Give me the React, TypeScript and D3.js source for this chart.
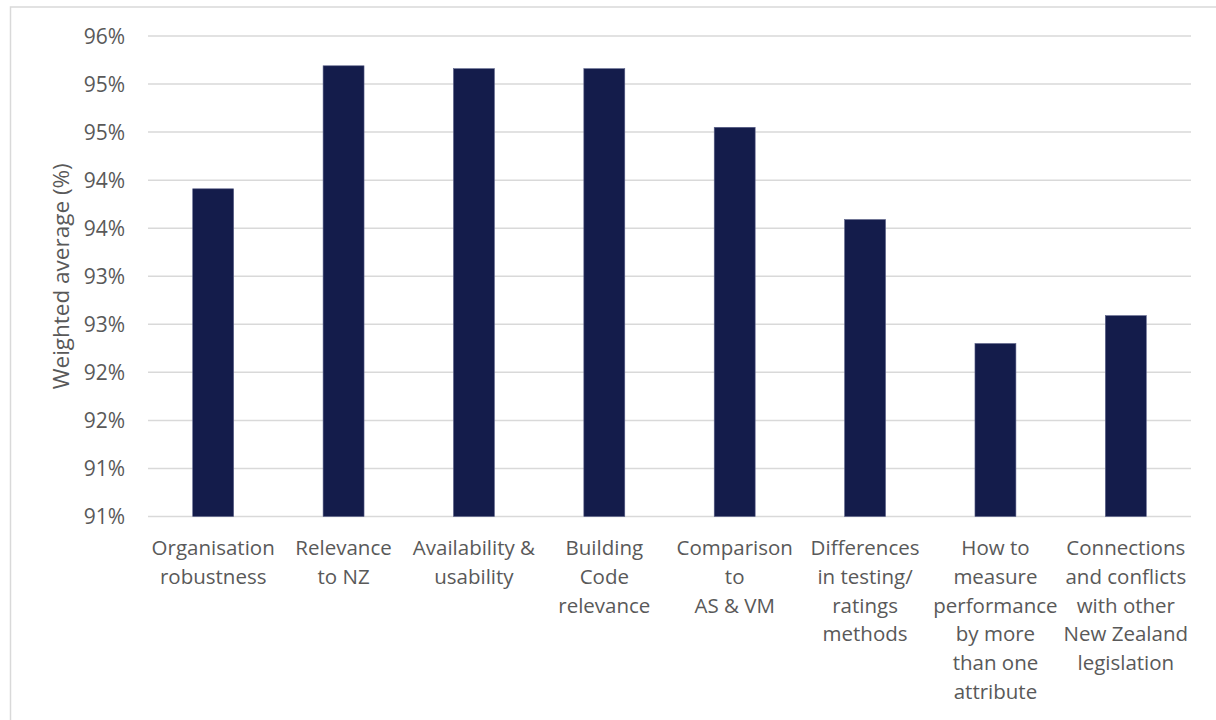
import React from "react";
import * as d3 from "d3";

const categories: string[] = [
  "Organisation\nrobustness",
  "Relevance\nto NZ",
  "Availability &\nusability",
  "Building\nCode\nrelevance",
  "Comparison\nto\nAS & VM",
  "Differences\nin testing/\nratings\nmethods",
  "How to\nmeasure\nperformance\nby more\nthan one\nattribute",
  "Connections\nand conflicts\nwith other\nNew Zealand\nlegislation",
];

const values: number[] = [93.91, 95.19, 95.16, 95.16, 94.55, 93.59, 92.3, 92.59];

const yTicks: number[] = [90.5, 91, 91.5, 92, 92.5, 93, 93.5, 94, 94.5, 95, 95.5];

const yTitle = "Weighted average (%)";

const W = 1216;
const H = 720;
const FONT = "'Open Sans', 'Noto Sans', sans-serif";
const TEXT = "#595959";
const GRID = "#d9d9d9";
const BAR = "#141c4b";

export default function App() {
  const left = 148;
  const right = 1191;
  const top = 36;
  const bottom = 516.5;

  const x = d3
    .scaleBand<number>()
    .domain(d3.range(categories.length))
    .range([left, right])
    .paddingInner(0.686)
    .paddingOuter(0.343);

  const y = d3.scaleLinear().domain([90.5, 95.5]).range([bottom, top]);

  const fmt = (v: number) => `${Math.round(v + 1e-9)}%`;

  return (
    <svg
      width={W}
      height={H}
      style={{ position: "absolute", left: 0, top: 0, background: "#fff" }}
      fontFamily={FONT}
    >
      <rect x={0} y={0} width={W} height={H} fill="#fff" />
      <rect x={10.5} y={7} width={W + 20} height={H + 20} fill="none" stroke={GRID} strokeWidth={1.5} />

      {yTicks.map((t) => (
        <g key={t}>
          <line x1={left} x2={right} y1={y(t)} y2={y(t)} stroke={GRID} strokeWidth={1.5} />
          <text
            x={125}
            y={y(t)}
            dy="0.36em"
            textAnchor="end"
            fontSize={21}
            fill={TEXT}
          >
            {fmt(t)}
          </text>
        </g>
      ))}

      {values.map((v, i) => (
        <rect
          key={i}
          x={x(i)!}
          y={y(v)}
          width={x.bandwidth()}
          height={bottom - y(v)}
          fill={BAR}
          stroke="#5a6088"
          strokeWidth={0.6}
        />
      ))}

      {categories.map((c, i) => {
        const cx = x(i)! + x.bandwidth() / 2;
        return (
          <text key={i} textAnchor="middle" fontSize={20.5} fill={TEXT}>
            {c.split("\n").map((line, j) => (
              <tspan key={j} x={cx} y={548 + j * 28.7} dy="0.35em">
                {line}
              </tspan>
            ))}
          </text>
        );
      })}

      <text
        transform={`translate(61, ${(top + bottom) / 2}) rotate(-90)`}
        textAnchor="middle"
        dy="0.35em"
        fontSize={22.5}
        fill={TEXT}
      >
        {yTitle}
      </text>
    </svg>
  );
}
